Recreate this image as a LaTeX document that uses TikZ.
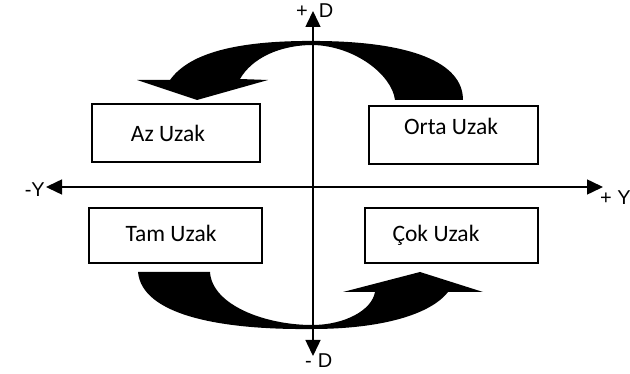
\documentclass[tikz,border=0pt]{standalone}
\usepackage{fontspec}
\setmainfont{Carlito}
\newfontfamily\axisfont{Liberation Sans}
\usetikzlibrary{arrows.meta}
\begin{document}
\begin{tikzpicture}[x=1pt,y=-1pt,
  box/.style={draw, line width=1.4pt, inner sep=0pt},
  boxtext/.style={font=\fontsize{23.5}{26}\selectfont, inner sep=0pt, anchor=base},
  axislabel/.style={font=\axisfont\fontsize{20}{22}\selectfont, inner sep=0pt},
  axis/.style={line width=1.5pt,
    {Triangle[length=16pt,width=15pt]}-{Triangle[length=16pt,width=15pt]}},
  band/.style={fill=black, draw=none}]

% page frame
\fill[white] (0,0) rectangle (630,374);
\useasboundingbox (0,0) rectangle (630,374);

% curved arrow over the top (right to left, head pointing down)
\fill[band] (463,100) .. controls (463,62) and (410,42) .. (320,41)
  .. controls (240,40) and (190,52) .. (170,80)
  -- (137,80) -- (197,100) -- (268,80) -- (240,79)
  .. controls (252,58) and (280,45) .. (313,45)
  .. controls (355,46) and (392,75) .. (395,100) -- cycle;

% curved arrow under the bottom (left to right, head pointing up)
\fill[band] (138,272) -- (210,272)
  .. controls (212,305) and (265,325) .. (312,325)
  .. controls (345,325) and (372,310) .. (375,292)
  -- (343,292) -- (420,272) -- (483,292) -- (448,292)
  .. controls (430,315) and (380,329) .. (312,329)
  .. controls (220,330) and (142,315) .. (138,272) -- cycle;

% axes
\coordinate (vtop) at (313,11);
\coordinate (vbot) at (313,356);
\coordinate (hleft) at (46,187);
\coordinate (hright) at (603,187);
\draw[axis] (vbot) -- (vtop);
\draw[axis] (hleft) -- (hright);

% axis labels
\node[axislabel, anchor=base west] (dplus) at (296,18) {+\hspace{11pt}D};
\node[axislabel, anchor=base west] (dminus) at (305,368) {-\hspace{6pt}D};
\node[axislabel, anchor=base east] (yminus) at (45,197) {-Y};
\node[axislabel, anchor=base west] (yplus) at (600,205) {+ Y};

% quadrant boxes
\node[box, minimum width=168pt, minimum height=58pt] (az) at (176,133) {};
\node[box, minimum width=169pt, minimum height=58pt] (orta) at (453.5,135) {};
\node[box, minimum width=173pt, minimum height=55pt] (tam) at (175.5,235.5) {};
\node[box, minimum width=173pt, minimum height=55pt] (cok) at (451.5,235.5) {};

\node[boxtext] (aztext) at (168,142) {Az Uzak};
\node[boxtext] (ortatext) at (451,135) {Orta Uzak};
\node[boxtext] (tamtext) at (171,242) {Tam Uzak};
\node[boxtext] (coktext) at (436,242) {Çok Uzak};
\end{tikzpicture}
\end{document}
